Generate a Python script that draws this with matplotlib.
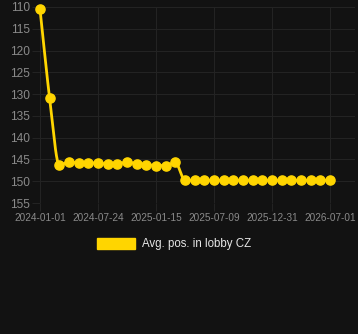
import numpy as np
import matplotlib
matplotlib.use("Agg")
import matplotlib.pyplot as plt
from matplotlib.patches import Patch

plt.rcParams['font.family'] = ['Liberation Sans', 'DejaVu Sans']

values = [110.5, 131.0, 146.3, 145.6, 145.8, 145.8, 145.8, 146.1, 146.0, 145.6,
          146.0, 146.2, 146.4, 146.4, 145.7,
          149.8, 149.8, 149.8, 149.8, 149.8, 149.8, 149.8, 149.8, 149.8, 149.8,
          149.8, 149.8, 149.8, 149.8, 149.8, 149.8]
tick_positions = [0, 6, 12, 18, 24, 30]
tick_labels = ["2024-01-01", "2024-07-24", "2025-01-15", "2025-07-09", "2025-12-31", "2026-07-01"]
y_ticks = [110, 115, 120, 125, 130, 135, 140, 145, 150, 155]
series_label = "Avg. pos. in lobby CZ"

BG = "#121212"
GRID = "#232323"
GOLD = "#FFD500"
TXT = "#8a8a8a"

x = np.arange(len(values), dtype=float)
y = np.array(values, dtype=float)

def monotone(xs, ys, n=20):
    h = np.diff(xs)
    d = np.diff(ys) / h
    m = np.zeros_like(ys)
    m[0] = d[0]
    m[-1] = d[-1]
    for i in range(1, len(ys) - 1):
        if d[i - 1] * d[i] <= 0:
            m[i] = 0
        else:
            m[i] = (d[i - 1] + d[i]) / 2
    for i in range(len(d)):
        if d[i] == 0:
            m[i] = m[i + 1] = 0
        else:
            a = m[i] / d[i]
            b = m[i + 1] / d[i]
            s = a * a + b * b
            if s > 9:
                t = 3 / np.sqrt(s)
                m[i] = t * a * d[i]
                m[i + 1] = t * b * d[i]
    X, Y = [], []
    for i in range(len(d)):
        t = np.linspace(0, 1, n, endpoint=(i == len(d) - 1))
        h00 = 2 * t**3 - 3 * t**2 + 1
        h10 = t**3 - 2 * t**2 + t
        h01 = -2 * t**3 + 3 * t**2
        h11 = t**3 - t**2
        X.append(xs[i] + t * h[i])
        Y.append(h00 * ys[i] + h10 * h[i] * m[i] + h01 * ys[i + 1] + h11 * h[i] * m[i + 1])
    return np.concatenate(X), np.concatenate(Y)

W, H = 358, 334
fig = plt.figure(figsize=(W / 100, H / 100), dpi=100, facecolor=BG)
left, right, top, bottom = 40, 355, 7, 203
ax = fig.add_axes([left / W, 1 - bottom / H, (right - left) / W, (bottom - top) / H])
ax.set_facecolor(BG)

sx, sy = monotone(x, y)
ax.plot(sx, sy, color=GOLD, lw=2.0, clip_on=False, zorder=3)
ax.plot(x, y, 'o', color=GOLD, ms=6.6, clip_on=False, zorder=4)

ax.set_ylim(155, 110)
ax.set_xlim(0, (right - left) / 9.667)
ax.set_yticks(y_ticks)
ax.set_xticks(tick_positions)
ax.set_xticklabels(tick_labels)
ax.grid(True, color=GRID, lw=0.8)
ax.set_axisbelow(True)
for s in ax.spines.values():
    s.set_visible(False)
ax.tick_params(axis='y', colors=GRID, length=6, width=0.8, labelcolor=TXT, labelsize=8.6, pad=1.5)
ax.tick_params(axis='x', colors=GRID, length=6, width=0.8, labelcolor=TXT, labelsize=7.2, pad=1)

handle = Patch(facecolor=GOLD, edgecolor=GOLD)
leg = fig.legend([handle], [series_label], loc='center', bbox_to_anchor=(0.487, 1 - 244 / H),
                 frameon=False, fontsize=8.3, handlelength=3.3, handleheight=1.1,
                 handletextpad=0.6, labelcolor='#e6e6e6')

fig.savefig("out.png", dpi=100, facecolor=BG)
